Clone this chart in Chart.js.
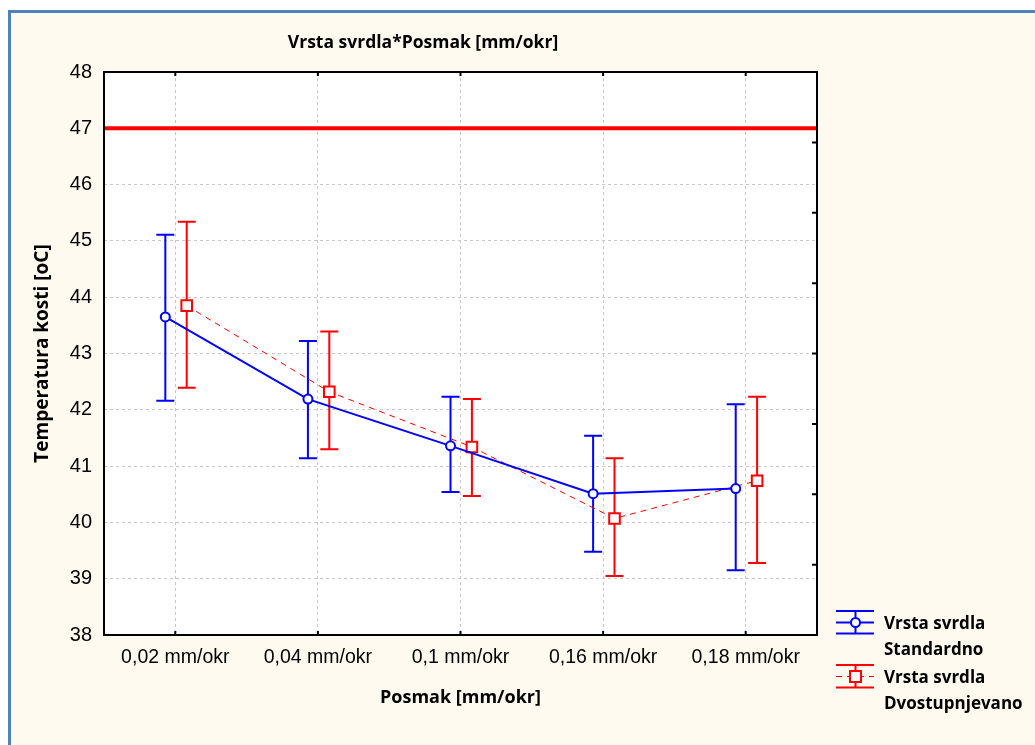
<!DOCTYPE html>
<html>
<head>
<meta charset="utf-8">
<script src="https://cdn.jsdelivr.net/npm/chart.js@4"></script>
<style>
  html, body { margin: 0; padding: 0; background: #ffffff; }
  #okvir {
    position: absolute; left: 8px; top: 10px; right: 0; bottom: 0;
    background: #fffaf0;
    border-left: 3px solid #4f81bd; border-top: 3px solid #4f81bd;
  }
  #platno { position: absolute; left: 0; top: 0; }
</style>
</head>
<body>
<div id="okvir"></div>
<canvas id="platno" width="1035" height="745"></canvas>
<script>
// kategorije (posmak)
const kategorije = ['0,02 mm/okr', '0,04 mm/okr', '0,1 mm/okr', '0,16 mm/okr', '0,18 mm/okr'];

// Vrsta svrdla: Standardno
const standardnoSred = [43.65, 42.19, 41.36, 40.51, 40.60];
const standardnoGore = [45.11, 43.22, 42.23, 41.54, 42.10];
const standardnoDolje = [42.16, 41.14, 40.54, 39.48, 39.15];

// Vrsta svrdla: Dvostupnjevano
const dvostupSred = [43.85, 42.32, 41.34, 40.07, 40.74];
const dvostupGore = [45.34, 43.39, 42.19, 41.14, 42.23];
const dvostupDolje = [42.39, 41.30, 40.47, 39.05, 39.28];

// granica temperature
const granica = [47, 47];

const yMin = 38;
const yMax = 48;
const yKorak = 1;

const PLAVA = '#0000ff';
const CRVENA = '#ff0000';
const pomakStd = -0.07;
const pomakDvo = 0.08;

const naslov = 'Vrsta svrdla*Posmak [mm/okr]';
const fontNaslov = '"Open Sans", Lato, sans-serif';
const fontBrojevi = '"Liberation Sans", Arial, sans-serif';

function tocke(sred, pomak) {
  return sred.map((v, i) => ({ x: i + pomak, y: v }));
}

// crta error barove prije tocaka
const errorBarovi = {
  id: 'errorBarovi',
  beforeDatasetsDraw(chart) {
    const ctx = chart.ctx;
    const xs = chart.scales.x;
    const ys = chart.scales.y;
    const serije = [
      { gore: standardnoGore, dolje: standardnoDolje, pomak: pomakStd, boja: PLAVA },
      { gore: dvostupGore, dolje: dvostupDolje, pomak: pomakDvo, boja: CRVENA },
    ];
    ctx.save();
    ctx.lineWidth = 2;
    serije.forEach(s => {
      ctx.strokeStyle = s.boja;
      s.gore.forEach((g, i) => {
        const x = xs.getPixelForValue(i + s.pomak);
        const y1 = ys.getPixelForValue(g);
        const y2 = ys.getPixelForValue(s.dolje[i]);
        ctx.beginPath();
        ctx.moveTo(x, y1); ctx.lineTo(x, y2);
        ctx.moveTo(x - 9, y1); ctx.lineTo(x + 9, y1);
        ctx.moveTo(x - 9, y2); ctx.lineTo(x + 9, y2);
        ctx.stroke();
      });
    });
    ctx.restore();
  }
};

const okvirGrafa = {
  id: 'okvirGrafa',
  beforeDraw(chart) {
    const { ctx, chartArea: a } = chart;
    ctx.save();
    ctx.fillStyle = '#ffffff';
    ctx.fillRect(a.left, a.top, a.right - a.left, a.bottom - a.top);
    ctx.restore();
  },
  afterDraw(chart) {
    const { ctx, chartArea: a } = chart;
    const xs = chart.scales.x;
    ctx.save();
    ctx.strokeStyle = '#000000';
    ctx.lineWidth = 2;
    ctx.strokeRect(a.left, a.top, a.right - a.left, a.bottom - a.top);
    ctx.beginPath();
    kategorije.forEach((k, i) => {
      const x = xs.getPixelForValue(i);
      ctx.moveTo(x, a.top); ctx.lineTo(x, a.top + 4);
      ctx.moveTo(x, a.bottom); ctx.lineTo(x, a.bottom - 4);
    });
    // desna os: unutarnje oznake
    for (let j = 1; j < 8; j++) {
      const y = a.bottom - (a.bottom - a.top) * j / 8;
      ctx.moveTo(a.right, y); ctx.lineTo(a.right - 5, y);
    }
    ctx.stroke();

    // naslov
    ctx.fillStyle = '#000000';
    ctx.font = 'bold 17.5px ' + fontNaslov;
    ctx.textAlign = 'center';
    ctx.textBaseline = 'alphabetic';
    ctx.fillText(naslov, 423, 48);

    // legenda
    crtajLegendu(ctx, 611, PLAVA, 'krug', ['Vrsta svrdla', 'Standardno'], 629);
    crtajLegendu(ctx, 665, CRVENA, 'kvadrat', ['Vrsta svrdla', 'Dvostupnjevano'], 683);
    ctx.restore();
  }
};

function crtajLegendu(ctx, yGore, boja, oblik, tekst, yTekst) {
  const x0 = 836, x1 = 874, xm = 855.5;
  const ySred = yGore + 11.5, yDolje = yGore + 22.5;
  ctx.save();
  ctx.strokeStyle = boja;
  ctx.lineWidth = 2;
  ctx.beginPath();
  ctx.moveTo(x0, yGore); ctx.lineTo(x1, yGore);
  ctx.moveTo(x0, yDolje); ctx.lineTo(x1, yDolje);
  ctx.moveTo(xm, yGore); ctx.lineTo(xm, yDolje);
  ctx.stroke();
  if (oblik === 'krug') {
    ctx.beginPath();
    ctx.moveTo(x0, ySred); ctx.lineTo(x1, ySred);
    ctx.stroke();
    ctx.fillStyle = '#ffffff';
    ctx.beginPath();
    ctx.arc(xm, ySred, 4.5, 0, Math.PI * 2);
    ctx.fill(); ctx.stroke();
  } else {
    ctx.lineWidth = 1;
    ctx.setLineDash([6, 5]);
    ctx.beginPath();
    ctx.moveTo(x0, ySred); ctx.lineTo(x1, ySred);
    ctx.stroke();
    ctx.setLineDash([]);
    ctx.lineWidth = 2;
    ctx.fillStyle = '#ffffff';
    ctx.fillRect(xm - 5.5, ySred - 5.5, 11, 11);
    ctx.strokeRect(xm - 5.5, ySred - 5.5, 11, 11);
  }
  ctx.fillStyle = '#000000';
  ctx.font = 'bold 17px ' + fontNaslov;
  ctx.textAlign = 'left';
  ctx.textBaseline = 'alphabetic';
  ctx.fillText(tekst[0], 884, yTekst);
  ctx.fillText(tekst[1], 884, yTekst + 26);
  ctx.restore();
}

new Chart(document.getElementById('platno'), {
  type: 'line',
  data: {
    datasets: [
      {
        label: 'Granica',
        data: granica.map((v, i) => ({ x: i === 0 ? -0.5 : kategorije.length - 0.5, y: v })),
        borderColor: CRVENA,
        borderWidth: 4,
        pointRadius: 0,
      },
      {
        label: 'Vrsta svrdla Standardno',
        data: tocke(standardnoSred, pomakStd),
        borderColor: PLAVA,
        borderWidth: 2,
        pointStyle: 'circle',
        pointRadius: 4.5,
        pointBorderWidth: 2,
        pointBackgroundColor: '#ffffff',
        pointBorderColor: PLAVA,
      },
      {
        label: 'Vrsta svrdla Dvostupnjevano',
        data: tocke(dvostupSred, pomakDvo),
        borderColor: CRVENA,
        borderWidth: 1,
        borderDash: [6, 5],
        pointStyle: 'rect',
        pointRadius: 7.5,
        pointBorderWidth: 2,
        pointBackgroundColor: '#ffffff',
        pointBorderColor: CRVENA,
      },
    ]
  },
  options: {
    responsive: false,
    animation: false,
    layout: { padding: { top: 72, right: 218, left: 0, bottom: 0 } },
    plugins: {
      legend: { display: false },
      tooltip: { enabled: false },
    },
    scales: {
      x: {
        type: 'linear',
        min: -0.5,
        max: kategorije.length - 0.5,
        afterBuildTicks: s => { s.ticks = kategorije.map((k, i) => ({ value: i })); },
        afterFit: s => { s.height = 110; },
        ticks: {
          callback: v => kategorije[v],
          font: { family: fontBrojevi, size: 19.5 },
          color: '#000000',
          padding: 11,
          maxRotation: 0,
        },
        grid: { color: '#c8c8c8', lineWidth: 1, drawTicks: false },
        border: { display: false, dash: [3, 3] },
        title: {
          display: true,
          text: 'Posmak [mm/okr]',
          font: { family: fontNaslov, size: 18, weight: 'bold' },
          color: '#000000',
          padding: { top: 0, bottom: 36 },
        },
      },
      y: {
        min: yMin,
        max: yMax,
        afterFit: s => { s.width = 104; },
        ticks: {
          stepSize: yKorak,
          font: { family: fontBrojevi, size: 20 },
          color: '#000000',
          padding: 12,
        },
        grid: { color: '#c8c8c8', lineWidth: 1, drawTicks: false },
        border: { display: false, dash: [3, 3] },
        title: {
          display: true,
          text: 'Temperatura kosti [oC]',
          font: { family: fontNaslov, size: 19, weight: 'bold' },
          color: '#000000',
          padding: { top: 31, bottom: 0 },
        },
      },
    },
  },
  plugins: [errorBarovi, okvirGrafa],
});
</script>
</body>
</html>
